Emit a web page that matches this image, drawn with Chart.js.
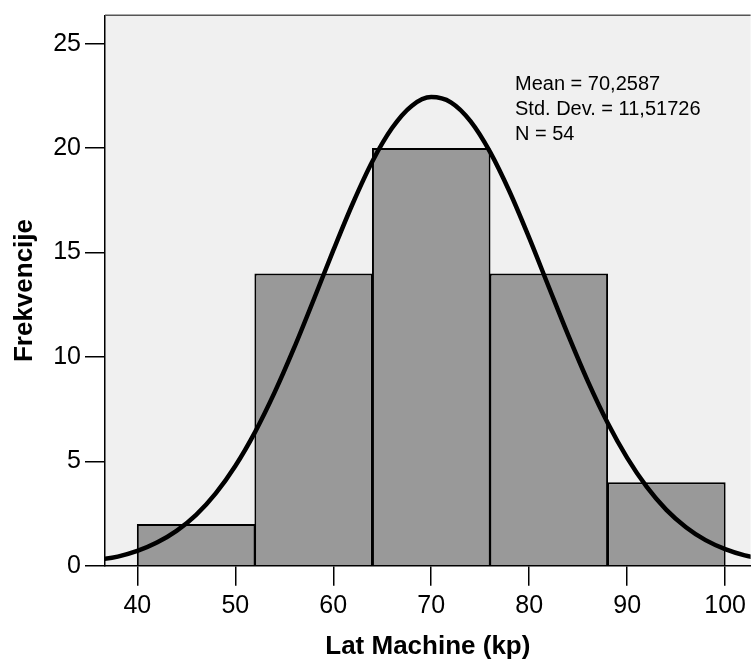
<!DOCTYPE html>
<html>
<head>
<meta charset="utf-8">
<title>Lat Machine histogram</title>
<script src="https://cdn.jsdelivr.net/npm/chart.js"></script>
<style>
  body { margin: 0; background: #fff; }
  #wrap { width: 751px; height: 662px; }
</style>
</head>
<body>
<div id="wrap"><canvas id="myChart"></canvas></div>

<script>
    // histogram bins (centre of each 12 kp wide bin) and their counts
    const binCenters = [46, 58, 70, 82, 94];
    const counts = [2, 14, 20, 14, 4];

    // normal curve
    const curveX = [34, 36, 38, 40, 42, 44, 46, 48, 50, 52, 54, 56, 58, 60, 62, 64, 66, 68, 70,
                    72, 74, 76, 78, 80, 82, 84, 86, 88, 90, 92, 94, 96, 98, 100, 102, 104];
    const curveY = [0.21, 0.29, 0.44, 0.71, 1.11, 1.67, 2.44, 3.47, 4.78, 6.39, 8.29, 10.43, 12.74, 15.10, 17.36, 19.37, 20.96, 22.02, 22.44,
                    22.19, 21.29, 19.82, 17.91, 15.70, 13.35, 11.02, 8.82, 6.85, 5.17, 3.78, 2.68, 1.85, 1.23, 0.80, 0.50, 0.31];

    const xTicks = [40, 50, 60, 70, 80, 90, 100];
    const yTicks = [0, 5, 10, 15, 20, 25];

    const statLines = ['Mean = 70,2587', 'Std. Dev. = 11,51726', 'N = 54'];

    const font = '"Liberation Sans", Arial, Helvetica, sans-serif';

    const frame = {
        id: 'frame',
        beforeDraw(chart) {
            const a = chart.chartArea, c = chart.ctx;
            c.save();
            c.fillStyle = '#f0f0f0';
            c.fillRect(a.left, a.top, a.right - a.left, a.bottom - a.top);
            c.restore();
        },
        afterDraw(chart) {
            const a = chart.chartArea, c = chart.ctx;
            c.save();
            c.strokeStyle = '#555';
            c.lineWidth = 1.5;
            c.beginPath();
            c.moveTo(a.left, a.top);
            c.lineTo(a.right, a.top);
            c.stroke();
            // stats box
            c.fillStyle = '#000';
            c.font = '20px ' + font;
            c.textBaseline = 'alphabetic';
            statLines.forEach((t, i) => c.fillText(t, a.left + 410, a.top + 75 + i * 25));
            c.restore();
        }
    };

    const ctx = document.getElementById('myChart');

    new Chart(ctx, {
        type: 'bar',
        data: {
            datasets: [{
                type: 'line',
                data: curveX.map((x, i) => ({ x: x, y: curveY[i] })),
                borderColor: '#000',
                borderWidth: 4.5,
                pointRadius: 0,
                cubicInterpolationMode: 'monotone',
                fill: false,
                order: 0
            }, {
                type: 'bar',
                data: binCenters.map((x, i) => ({ x: x, y: counts[i] })),
                backgroundColor: '#999999',
                borderColor: '#000',
                borderWidth: 2,
                barPercentage: 1,
                // chart.js sizes bars from the tick spacing (10), bins are 12 wide
                categoryPercentage: 1.21,
                order: 1
            }]
        },
        options: {
            responsive: true,
            maintainAspectRatio: false,
            animation: false,
            events: [],
            layout: { padding: { left: 0, top: 0, right: 0, bottom: 0 } },
            plugins: {
                legend: { display: false },
                tooltip: { enabled: false }
            },
            scales: {
                x: {
                    type: 'linear',
                    min: 36.7,
                    max: 102.6,
                    offset: false,
                    afterBuildTicks: s => { s.ticks = xTicks.map(v => ({ value: v })); },
                    grid: { offset: false, drawOnChartArea: false, tickLength: 20, color: '#000', lineWidth: 1.5 },
                    border: { display: true, color: '#000', width: 1.5 },
                    ticks: { color: '#000', font: { family: font, size: 25 }, padding: 5, maxRotation: 0 },
                    title: {
                        display: true,
                        text: 'Lat Machine (kp)',
                        color: '#000',
                        font: { family: font, size: 26, weight: 'bold' },
                        padding: { top: 5, bottom: 0 }
                    }
                },
                y: {
                    min: 0,
                    max: 26.36,
                    afterBuildTicks: s => { s.ticks = yTicks.map(v => ({ value: v })); },
                    grid: { drawOnChartArea: false, tickLength: 20, color: '#000', lineWidth: 1.5 },
                    border: { display: true, color: '#000', width: 1.5 },
                    ticks: { color: '#000', font: { family: font, size: 25, lineHeight: 0.9 }, padding: 4 },
                    title: {
                        display: true,
                        text: 'Frekvencije',
                        color: '#000',
                        font: { family: font, size: 26, weight: 'bold' },
                        padding: { top: 9, bottom: 9 }
                    }
                }
            }
        },
        plugins: [frame]
    });
</script>
</body>
</html>
